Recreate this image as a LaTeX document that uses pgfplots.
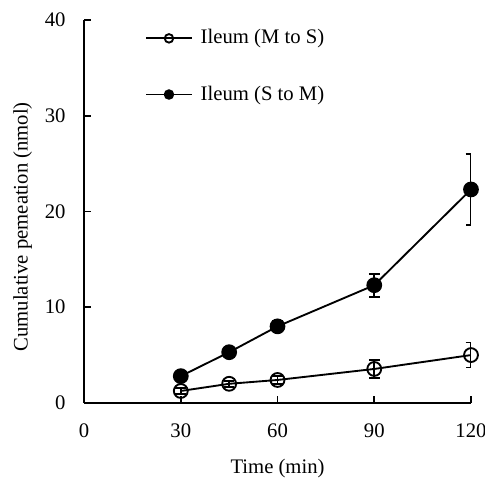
\documentclass[border=0pt]{standalone}
\usepackage{fontspec}
\setmainfont{Liberation Serif}
\usepackage{pgfplots}
\pgfplotsset{compat=1.18}
\begin{document}
\fontsize{15.5}{18}\selectfont
\begin{tikzpicture}
\begin{axis}[
    scale only axis, width=290pt, height=287pt,
    xmin=0, xmax=120, ymin=0, ymax=40,
    xtick={0,30,60,90,120}, ytick={0,10,20,30,40},
    axis x line*=bottom, axis y line*=left,
    axis line style={line width=1.5pt},
    tick style={line width=1.2pt, black}, major tick length=5pt,
    tick align=inside,
    xlabel={Time (min)}, ylabel={Cumulative pemeation (nmol)},
    xlabel style={at={(axis description cs:0.5,-0.17)}, anchor=center},
    ylabel style={at={(axis description cs:-0.159,0.46)}, anchor=center},
    /pgf/number format/assume math mode=true,
    ticklabel style={font=\fontsize{15.5}{18}\selectfont},
    label style={font=\fontsize{15.5}{18}\selectfont},
    xticklabel style={yshift=-10pt},
    yticklabel style={xshift=-8.5pt},
    legend style={draw=none, fill=none, at={(axis cs:18.9,39.3)}, anchor=north west,
        row sep=25pt, font=\fontsize{15.5}{18}\selectfont, inner sep=0pt},
    legend cell align=left,
    legend image code/.code={\draw[mark repeat=2,mark phase=2,mark size=3.2pt] plot coordinates {(0cm,0cm)(0.6cm,0cm)(1.2cm,0cm)};},
]
\addplot[black, line width=1.4pt, mark=o, mark size=5.2pt, mark options={fill=white, line width=1.4pt},
    error bars/.cd, y dir=both, y explicit, error bar style={line width=1.3pt}, error mark options={rotate=90, mark size=4pt, line width=1.3pt}]
  coordinates {
  (30,1.25) +- (0,0.3)
  (45,2.0) +- (0,0.3)
  (60,2.4) +- (0,0.4)
  (90,3.55) +- (0,0.95)
  (120,5.0) +- (0,1.3)
};
\addlegendentry{\hspace{4pt}Ileum (M to S)}
\addplot[black, line width=1.4pt, mark=*, mark size=5.2pt, mark options={fill=black},
    error bars/.cd, y dir=both, y explicit, error bar style={line width=1.3pt}, error mark options={rotate=90, mark size=4pt, line width=1.3pt}]
  coordinates {
  (30,2.8) +- (0,0.3)
  (45,5.3) +- (0,0.3)
  (60,8.0) +- (0,0.55)
  (90,12.3) +- (0,1.2)
  (120,22.3) +- (0,3.7)
};
\addlegendentry{\hspace{4pt}Ileum (S to M)}
\end{axis}
\pgfresetboundingbox
\path[use as bounding box] ([xshift=-63pt,yshift=-56pt]current axis.south west) rectangle ([xshift=10.5pt,yshift=15pt]current axis.north east);
\end{tikzpicture}
\end{document}
